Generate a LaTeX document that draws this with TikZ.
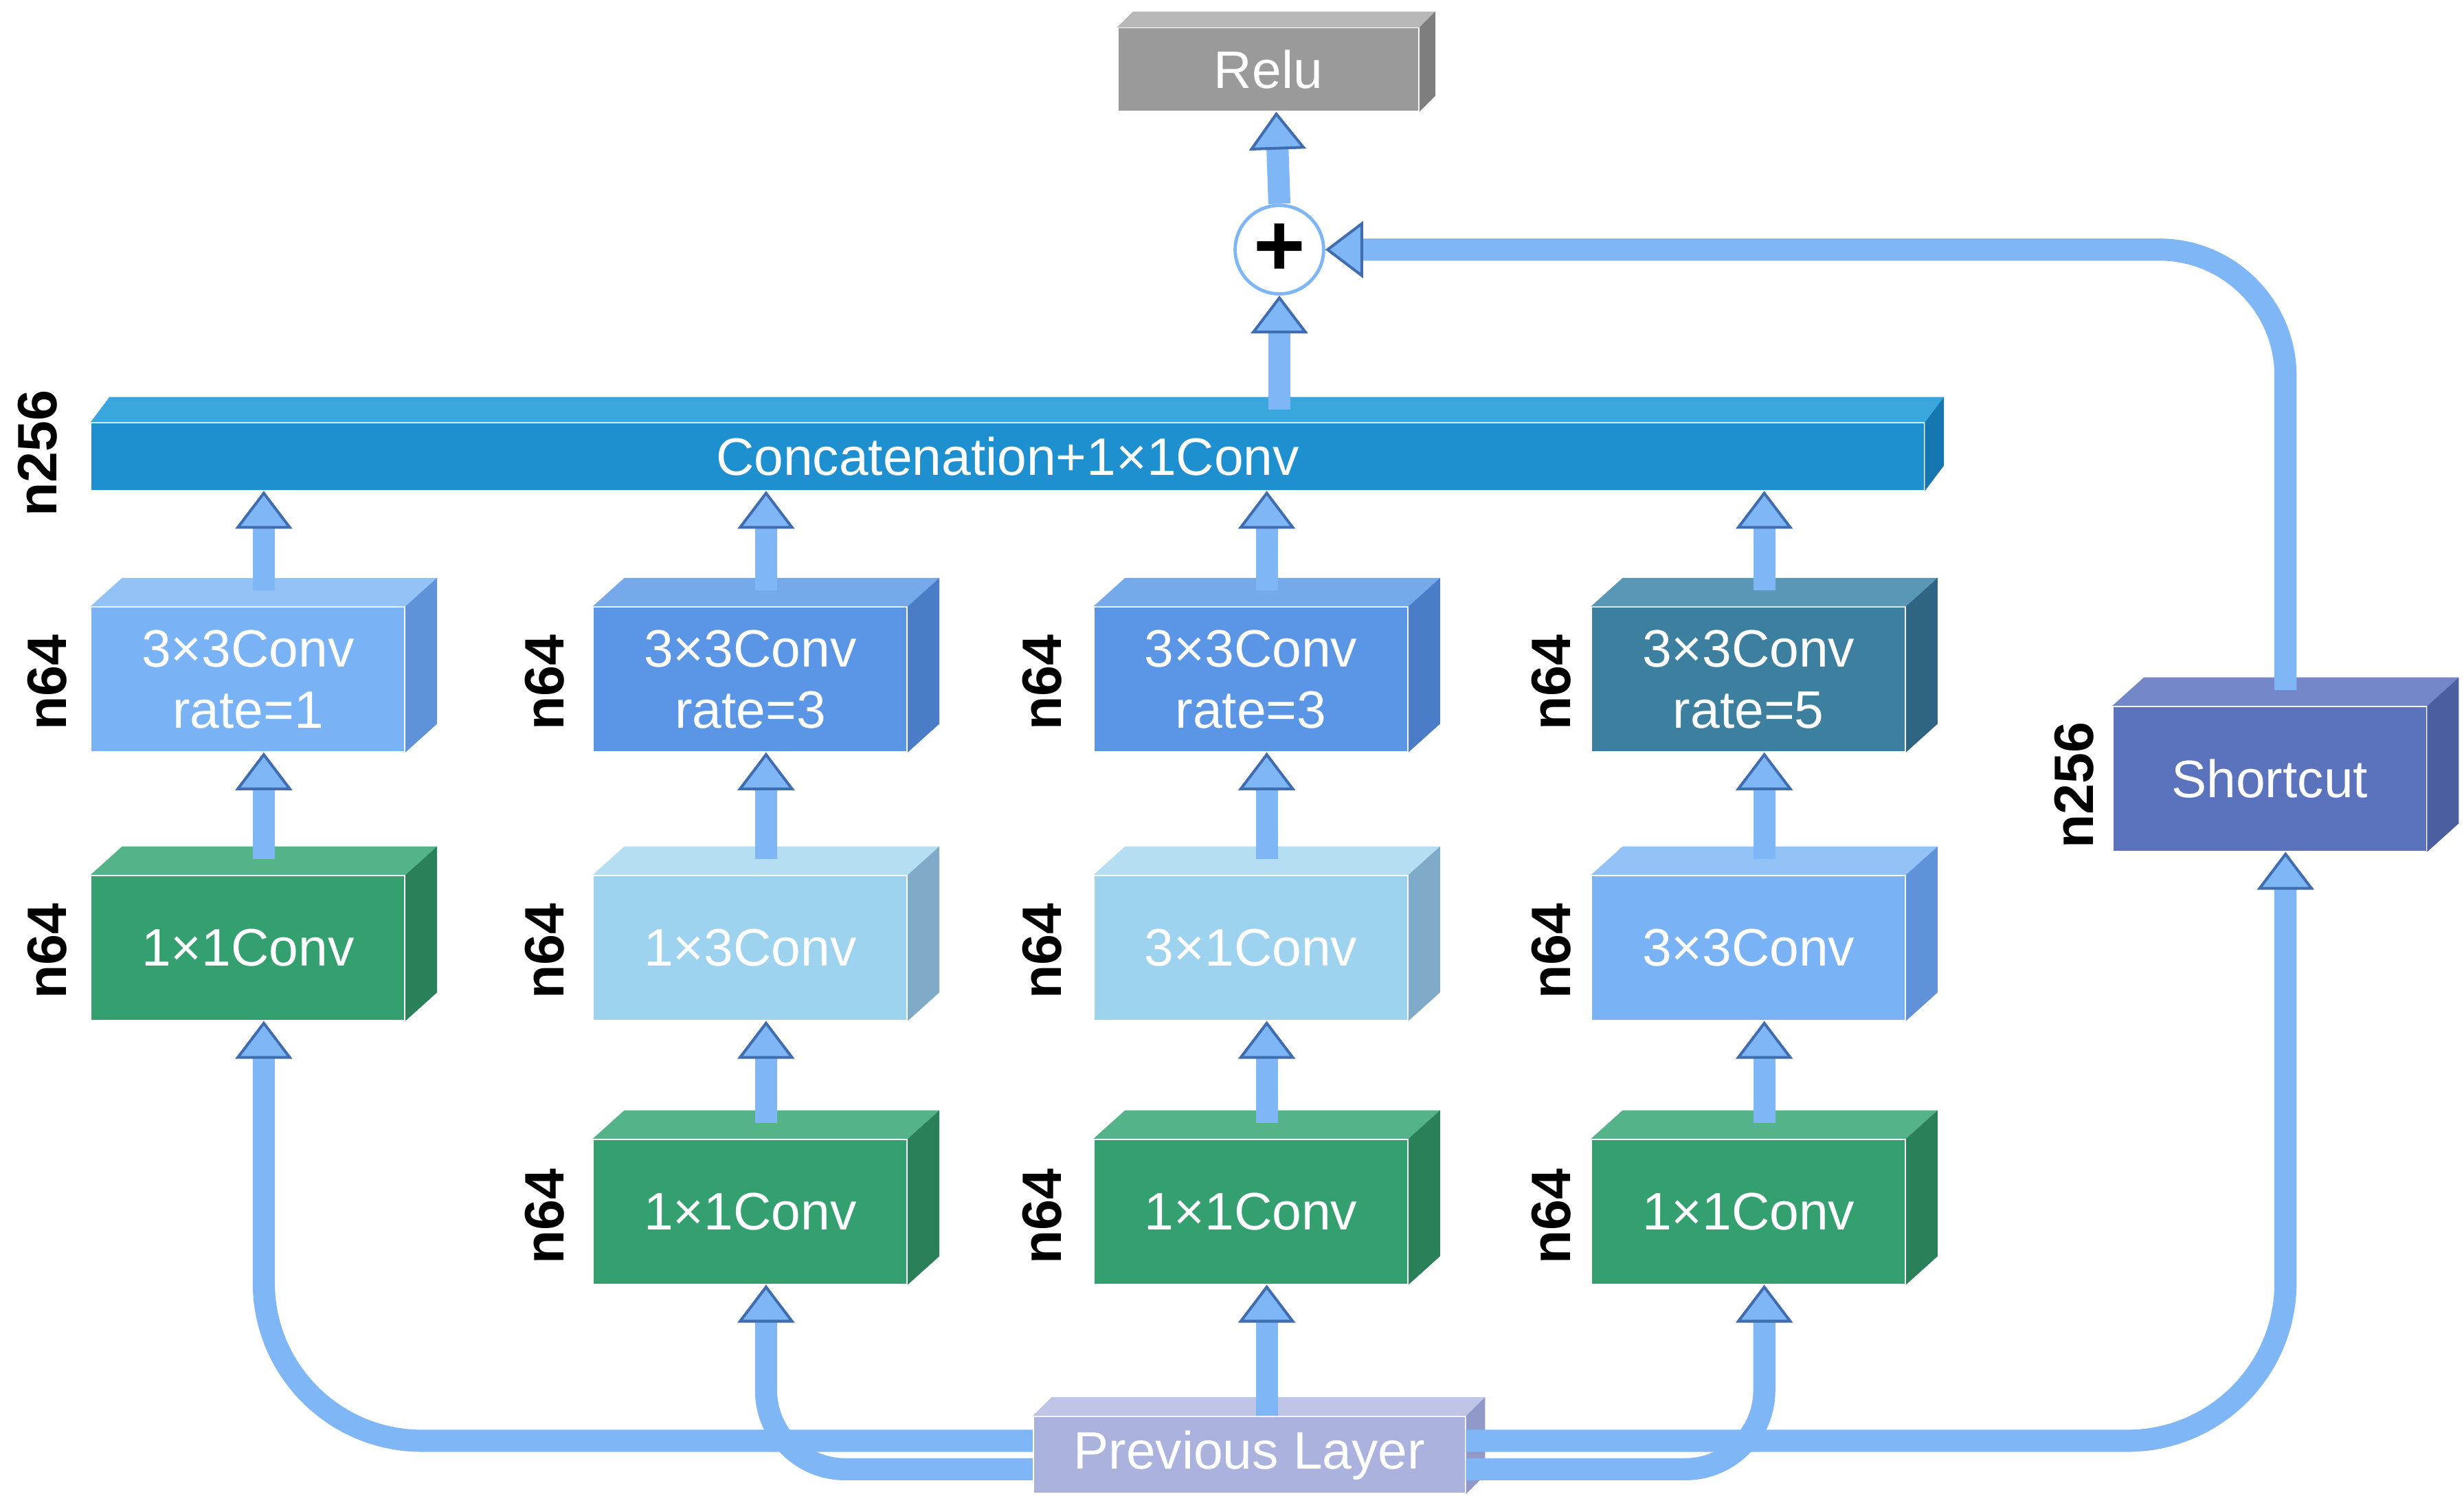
\documentclass[tikz,border=0pt]{standalone}
\usepackage{fontspec}
\setmainfont{Liberation Sans}
\usetikzlibrary{arrows.meta,calc}
\definecolor{arrL}{HTML}{7FB6F5}
\definecolor{arrD}{HTML}{3F6DB0}
\definecolor{reluF}{HTML}{9A9A9A}\definecolor{reluT}{HTML}{B8B8B8}\definecolor{reluS}{HTML}{7E7E7E}
\definecolor{catF}{HTML}{1E90D0}\definecolor{catT}{HTML}{3AA6DE}\definecolor{catS}{HTML}{1676B0}
\definecolor{rAF}{HTML}{7AB3F5}\definecolor{rAT}{HTML}{93C2F7}\definecolor{rAS}{HTML}{5F92D8}
\definecolor{rBF}{HTML}{5A95E6}\definecolor{rBT}{HTML}{76A9EA}\definecolor{rBS}{HTML}{4A7CC8}
\definecolor{rCF}{HTML}{3D7F9F}\definecolor{rCT}{HTML}{5A96B5}\definecolor{rCS}{HTML}{2F6482}
\definecolor{gF}{HTML}{34A070}\definecolor{gT}{HTML}{55B38A}\definecolor{gS}{HTML}{2A8058}
\definecolor{lF}{HTML}{9ED3EF}\definecolor{lT}{HTML}{B5DEF3}\definecolor{lS}{HTML}{7FABC8}
\definecolor{sF}{HTML}{5B72BD}\definecolor{sT}{HTML}{7487C8}\definecolor{sS}{HTML}{4A5EA0}
\definecolor{pF}{HTML}{AAB2DD}\definecolor{pT}{HTML}{BEC5E6}\definecolor{pS}{HTML}{9199C8}
\newcommand\threed[5]{%
 \fill[#2] (#1.north west) -- ++(#4,-#5) -- ([shift={(#4,-#5)}]#1.north east) -- (#1.north east) -- cycle;
 \fill[#3] (#1.north east) -- ++(#4,-#5) -- ([shift={(#4,-#5)}]#1.south east) -- (#1.south east) -- cycle;}
\tikzset{
 box/.style={inner sep=0pt, text=white, align=center, font=\fontsize{9.5}{11}\selectfont, minimum width=19.8mm, minimum height=9.1mm},
 lab/.style={rotate=90, font=\bfseries\fontsize{10}{12}\selectfont, text=black},
 arr/.style={arrL, line width=1.4mm, -{Triangle[width=3.6mm,length=2.4mm,fill=arrL,color=arrD,line width=0.5pt]}},
}
\begin{document}
\begin{tikzpicture}[x=0.1mm,y=-0.1mm]
\useasboundingbox[fill=white] (0,0) rectangle (1560,951);
% Relu
\node[box, fill=reluF, minimum width=19mm, minimum height=5.2mm] (relu) at (803,44) {Relu};
\threed{relu}{reluT}{reluS}{10}{10}
% plus
\node[circle, fill=white, draw=arrL, line width=0.6pt, minimum size=5.6mm, inner sep=0pt, font=\bfseries\fontsize{16}{16}\selectfont] (plus) at (810,158) {+};
% concat
\node[box, fill=catF, minimum width=116mm, minimum height=4.2mm] (cat) at (638,289) {Concatenation+1×1Conv};
\threed{cat}{catT}{catS}{12}{16}
% row1
\node[box, fill=rAF] (a1) at (157,430) {3×3Conv\\rate=1};
\node[box, fill=rBF] (b1) at (475,430) {3×3Conv\\rate=3};
\node[box, fill=rBF] (c1) at (792,430) {3×3Conv\\rate=3};
\node[box, fill=rCF] (d1) at (1107,430) {3×3Conv\\rate=5};
\threed{a1}{rAT}{rAS}{20}{18}\threed{b1}{rBT}{rBS}{20}{18}
\threed{c1}{rBT}{rBS}{20}{18}\threed{d1}{rCT}{rCS}{20}{18}
% row2
\node[box, fill=gF] (a2) at (157,600) {1×1Conv};
\node[box, fill=lF] (b2) at (475,600) {1×3Conv};
\node[box, fill=lF] (c2) at (792,600) {3×1Conv};
\node[box, fill=rAF] (d2) at (1107,600) {3×3Conv};
\threed{a2}{gT}{gS}{20}{18}\threed{b2}{lT}{lS}{20}{18}
\threed{c2}{lT}{lS}{20}{18}\threed{d2}{rAT}{rAS}{20}{18}
% row3
\node[box, fill=gF] (b3) at (475,767) {1×1Conv};
\node[box, fill=gF] (c3) at (792,767) {1×1Conv};
\node[box, fill=gF] (d3) at (1107,767) {1×1Conv};
\threed{b3}{gT}{gS}{20}{18}\threed{c3}{gT}{gS}{20}{18}\threed{d3}{gT}{gS}{20}{18}
% shortcut
\node[box, fill=sF] (sc) at (1437,493) {Shortcut};
\threed{sc}{sT}{sS}{20}{18}
% previous layer
\node[box, fill=pF, minimum width=27.3mm, minimum height=4.8mm] (prev) at (791,921) {Previous Layer};
\threed{prev}{pT}{pS}{12}{12}
% labels
\node[lab] (l0) at (24,287) {n256};
\node[lab] (la1) at (30,432) {n64};
\node[lab] (la2) at (30,602) {n64};
\node[lab] (lb1) at (345,432) {n64};
\node[lab] (lb2) at (345,602) {n64};
\node[lab] (lb3) at (345,770) {n64};
\node[lab] (lc1) at (660,432) {n64};
\node[lab] (lc2) at (660,602) {n64};
\node[lab] (lc3) at (660,770) {n64};
\node[lab] (ld1) at (982,432) {n64};
\node[lab] (ld2) at (982,602) {n64};
\node[lab] (ld3) at (982,770) {n64};
\node[lab] (ls) at (1313,497) {n256};
% arrows in columns
\foreach \lo/\hi in {a2/a1,b3/b2,b2/b1,c3/c2,c2/c1,d3/d2,d2/d1}{
 \draw[arr] ([shift={(10,-10)}]\lo.north) -- ([shift={(10,0)}]\hi.south);}
\foreach \b in {a1,b1,c1,d1}{
 \draw[arr] ([shift={(10,-10)}]\b.north) -- ([shift={(10,0)}]\b.north |- cat.south);}
\draw[arr] ([shift={(172,-8)}]cat.north) -- (plus.south);
\draw[arr] (plus.north) -- ([shift={(5,0)}]relu.south);
% from previous layer
\draw[arr, rounded corners=10mm] ([yshift=0.9mm]prev.west) -| ([shift={(10,0)}]a2.south);
\draw[arr, rounded corners=5mm] ([yshift=-0.9mm]prev.west) -| ([shift={(10,0)}]b3.south);
\draw[arr] ([shift={(10,0)}]c3.south |- prev.north) -- ([shift={(10,0)}]c3.south);
\draw[arr, rounded corners=5mm] ([yshift=-0.9mm]prev.east) -| ([shift={(10,0)}]d3.south);
\draw[arr, rounded corners=10mm] ([yshift=0.9mm]prev.east) -| ([shift={(10,0)}]sc.south);
\draw[arr, rounded corners=8mm] ([shift={(10,-10)}]sc.north) |- (plus.east);
\end{tikzpicture}
\end{document}
